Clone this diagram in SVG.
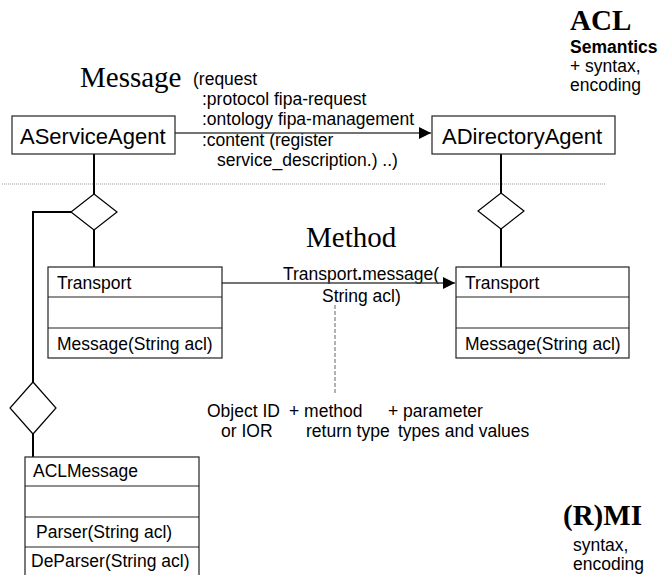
<svg xmlns="http://www.w3.org/2000/svg" width="660" height="575" viewBox="0 0 660 575">
<defs>
<marker id="ah" viewBox="0 0 12 12" refX="12" refY="6" markerWidth="12" markerHeight="12" markerUnits="userSpaceOnUse" orient="auto">
<path d="M0,0 L12,6 L0,12 Z" fill="#000"/>
</marker>
</defs>
<style>
.box{fill:#fff;stroke:#222;stroke-width:1.2}
.sep{stroke:#222;stroke-width:1.2}
.t{font-family:"Liberation Sans",Arial,sans-serif;font-size:17.5px;fill:#000}
.big{font-family:"Liberation Sans",Arial,sans-serif;font-size:22px;fill:#000}
.serif{font-family:"Liberation Serif","Times New Roman",serif;font-size:29px;fill:#000}
.sb{font-family:"Liberation Serif","Times New Roman",serif;font-size:29px;font-weight:bold;fill:#000}
.comp{stroke:#000;stroke-width:2;fill:none}
.dia{fill:#fff;stroke:#000;stroke-width:1.2}
.msg{stroke:#444;stroke-width:1.5;fill:none;marker-end:url(#ah)}
</style>
<rect width="660" height="575" fill="#fff"/>

<g id="labels">
<text class="sb" x="570" y="30">ACL</text>
<text class="t" x="570" y="53" font-weight="bold">Semantics</text>
<text class="t" x="570" y="72">+ syntax,</text>
<text class="t" x="570" y="91">encoding</text>
<text class="serif" x="80" y="87">Message</text>
<text class="t" x="193" y="85">(request</text>
<text class="t" x="202" y="105">:protocol fipa-request</text>
<text class="t" x="202" y="125">:ontology fipa-management</text>
<text class="t" x="202" y="146">:content (register</text>
<text class="t" x="217" y="166">service_description.) ..)</text>
<text class="serif" x="306" y="247">Method</text>
<text class="t" x="283" y="280">Transport<tspan font-weight="bold">.</tspan>message(</text>
<text class="t" x="322" y="302">String acl)</text>
<text class="t" x="207" y="417">Object ID</text>
<text class="t" x="289" y="417">+ method</text>
<text class="t" x="388" y="417">+ parameter</text>
<text class="t" x="221" y="437">or IOR</text>
<text class="t" x="306" y="437">return type</text>
<text class="t" x="398" y="437">types and values</text>
<text class="sb" x="563" y="525">(R)MI</text>
<text class="t" x="573" y="551">syntax,</text>
<text class="t" x="573" y="570">encoding</text>
</g>

<g id="connectors">
<line x1="2" y1="184" x2="606" y2="184" stroke="#999" stroke-width="1" stroke-dasharray="1,1"/>
<line class="msg" x1="175" y1="133" x2="431" y2="133"/>
<line class="msg" x1="222" y1="283" x2="455" y2="283"/>
<line x1="335" y1="305" x2="335" y2="395" stroke="#666" stroke-width="1" stroke-dasharray="4,2"/>
<polyline class="comp" points="94,154 94,194"/>
<polyline class="comp" points="94,230 94,267"/>
<polyline class="comp" points="71,212 33,212 33,382"/>
<polyline class="comp" points="33,434 33,457"/>
<polyline class="comp" points="501,154 501,193"/>
<polyline class="comp" points="501,229 501,267"/>
</g>

<g id="diamond-left">
<polygon class="dia" points="94,194 117,212 94,230 71,212"/>
</g>
<g id="diamond-right">
<polygon class="dia" points="501,193 524,211 501,229 478,211"/>
</g>
<g id="diamond-low">
<polygon class="dia" points="33,382 56,408 33,434 10,408"/>
</g>

<g id="AServiceAgent">
<rect class="box" x="12" y="116" width="163" height="38"/>
<text class="big" x="20" y="144">AServiceAgent</text>
</g>

<g id="ADirectoryAgent">
<rect class="box" x="432" y="116" width="183" height="38"/>
<text class="big" x="442" y="144">ADirectoryAgent</text>
</g>

<g id="TransportLeft">
<rect class="box" x="48" y="267" width="174" height="91"/>
<line class="sep" x1="48" y1="297" x2="222" y2="297"/>
<line class="sep" x1="48" y1="328" x2="222" y2="328"/>
<text class="t" x="57" y="289">Transport</text>
<text class="t" x="57" y="350">Message(String acl)</text>
</g>

<g id="TransportRight">
<rect class="box" x="456" y="267" width="173" height="91"/>
<line class="sep" x1="456" y1="297" x2="629" y2="297"/>
<line class="sep" x1="456" y1="328" x2="629" y2="328"/>
<text class="t" x="465" y="289">Transport</text>
<text class="t" x="465" y="350">Message(String acl)</text>
</g>

<g id="ACLMessage">
<rect class="box" x="25" y="457" width="174" height="125"/>
<line class="sep" x1="25" y1="486" x2="199" y2="486"/>
<line class="sep" x1="25" y1="517" x2="199" y2="517"/>
<line class="sep" x1="25" y1="547" x2="199" y2="547"/>
<text class="t" x="33" y="477">ACLMessage</text>
<text class="t" x="36" y="538">Parser(String acl)</text>
<text class="t" x="31" y="567">DeParser(String acl)</text>
</g>
</svg>
